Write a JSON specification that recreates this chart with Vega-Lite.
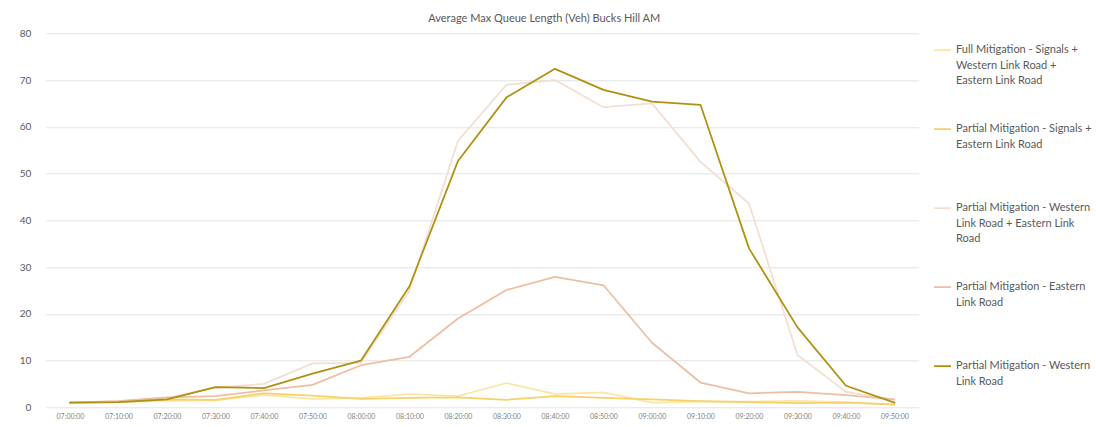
{
  "$schema": "https://vega.github.io/schema/vega-lite/v6.json",
  "width": 873,
  "height": 374,
  "autosize": {"type": "none"},
  "padding": {"left": 45.75, "top": 33.3, "right": 177.25, "bottom": 19.7},
  "background": "white",
  "title": {
    "text": "Average Max Queue Length (Veh) Bucks Hill AM",
    "font": "Lato",
    "fontSize": 11,
    "fontWeight": "normal",
    "color": "#595959",
    "anchor": "middle",
    "dx": 62,
    "dy": 22.5,
    "offset": 9
  },
  "data": {
    "values": [
      {"time": "07:00:00", "series": "Full Mitigation - Signals + Western Link Road + Eastern Link Road", "value": 1.0},
      {"time": "07:10:00", "series": "Full Mitigation - Signals + Western Link Road + Eastern Link Road", "value": 1.1},
      {"time": "07:20:00", "series": "Full Mitigation - Signals + Western Link Road + Eastern Link Road", "value": 1.4},
      {"time": "07:30:00", "series": "Full Mitigation - Signals + Western Link Road + Eastern Link Road", "value": 1.5},
      {"time": "07:40:00", "series": "Full Mitigation - Signals + Western Link Road + Eastern Link Road", "value": 2.6},
      {"time": "07:50:00", "series": "Full Mitigation - Signals + Western Link Road + Eastern Link Road", "value": 1.8},
      {"time": "08:00:00", "series": "Full Mitigation - Signals + Western Link Road + Eastern Link Road", "value": 2.0},
      {"time": "08:10:00", "series": "Full Mitigation - Signals + Western Link Road + Eastern Link Road", "value": 2.8},
      {"time": "08:20:00", "series": "Full Mitigation - Signals + Western Link Road + Eastern Link Road", "value": 2.4},
      {"time": "08:30:00", "series": "Full Mitigation - Signals + Western Link Road + Eastern Link Road", "value": 5.2},
      {"time": "08:40:00", "series": "Full Mitigation - Signals + Western Link Road + Eastern Link Road", "value": 2.8},
      {"time": "08:50:00", "series": "Full Mitigation - Signals + Western Link Road + Eastern Link Road", "value": 3.2},
      {"time": "09:00:00", "series": "Full Mitigation - Signals + Western Link Road + Eastern Link Road", "value": 1.0},
      {"time": "09:10:00", "series": "Full Mitigation - Signals + Western Link Road + Eastern Link Road", "value": 1.2},
      {"time": "09:20:00", "series": "Full Mitigation - Signals + Western Link Road + Eastern Link Road", "value": 1.2},
      {"time": "09:30:00", "series": "Full Mitigation - Signals + Western Link Road + Eastern Link Road", "value": 1.4},
      {"time": "09:40:00", "series": "Full Mitigation - Signals + Western Link Road + Eastern Link Road", "value": 1.1},
      {"time": "09:50:00", "series": "Full Mitigation - Signals + Western Link Road + Eastern Link Road", "value": 0.5},

      {"time": "07:00:00", "series": "Partial Mitigation - Signals + Eastern Link Road", "value": 1.0},
      {"time": "07:10:00", "series": "Partial Mitigation - Signals + Eastern Link Road", "value": 1.1},
      {"time": "07:20:00", "series": "Partial Mitigation - Signals + Eastern Link Road", "value": 1.7},
      {"time": "07:30:00", "series": "Partial Mitigation - Signals + Eastern Link Road", "value": 1.6},
      {"time": "07:40:00", "series": "Partial Mitigation - Signals + Eastern Link Road", "value": 3.0},
      {"time": "07:50:00", "series": "Partial Mitigation - Signals + Eastern Link Road", "value": 2.5},
      {"time": "08:00:00", "series": "Partial Mitigation - Signals + Eastern Link Road", "value": 1.8},
      {"time": "08:10:00", "series": "Partial Mitigation - Signals + Eastern Link Road", "value": 2.0},
      {"time": "08:20:00", "series": "Partial Mitigation - Signals + Eastern Link Road", "value": 2.1},
      {"time": "08:30:00", "series": "Partial Mitigation - Signals + Eastern Link Road", "value": 1.6},
      {"time": "08:40:00", "series": "Partial Mitigation - Signals + Eastern Link Road", "value": 2.4},
      {"time": "08:50:00", "series": "Partial Mitigation - Signals + Eastern Link Road", "value": 2.0},
      {"time": "09:00:00", "series": "Partial Mitigation - Signals + Eastern Link Road", "value": 1.7},
      {"time": "09:10:00", "series": "Partial Mitigation - Signals + Eastern Link Road", "value": 1.3},
      {"time": "09:20:00", "series": "Partial Mitigation - Signals + Eastern Link Road", "value": 1.1},
      {"time": "09:30:00", "series": "Partial Mitigation - Signals + Eastern Link Road", "value": 0.9},
      {"time": "09:40:00", "series": "Partial Mitigation - Signals + Eastern Link Road", "value": 1.0},
      {"time": "09:50:00", "series": "Partial Mitigation - Signals + Eastern Link Road", "value": 0.6},

      {"time": "07:00:00", "series": "Partial Mitigation - Western Link Road + Eastern Link Road", "value": 1.0},
      {"time": "07:10:00", "series": "Partial Mitigation - Western Link Road + Eastern Link Road", "value": 1.3},
      {"time": "07:20:00", "series": "Partial Mitigation - Western Link Road + Eastern Link Road", "value": 2.0},
      {"time": "07:30:00", "series": "Partial Mitigation - Western Link Road + Eastern Link Road", "value": 4.2},
      {"time": "07:40:00", "series": "Partial Mitigation - Western Link Road + Eastern Link Road", "value": 5.0},
      {"time": "07:50:00", "series": "Partial Mitigation - Western Link Road + Eastern Link Road", "value": 9.4},
      {"time": "08:00:00", "series": "Partial Mitigation - Western Link Road + Eastern Link Road", "value": 9.5},
      {"time": "08:10:00", "series": "Partial Mitigation - Western Link Road + Eastern Link Road", "value": 25.0},
      {"time": "08:20:00", "series": "Partial Mitigation - Western Link Road + Eastern Link Road", "value": 57.0},
      {"time": "08:30:00", "series": "Partial Mitigation - Western Link Road + Eastern Link Road", "value": 69.0},
      {"time": "08:40:00", "series": "Partial Mitigation - Western Link Road + Eastern Link Road", "value": 70.0},
      {"time": "08:50:00", "series": "Partial Mitigation - Western Link Road + Eastern Link Road", "value": 64.2},
      {"time": "09:00:00", "series": "Partial Mitigation - Western Link Road + Eastern Link Road", "value": 65.0},
      {"time": "09:10:00", "series": "Partial Mitigation - Western Link Road + Eastern Link Road", "value": 52.5},
      {"time": "09:20:00", "series": "Partial Mitigation - Western Link Road + Eastern Link Road", "value": 43.6},
      {"time": "09:30:00", "series": "Partial Mitigation - Western Link Road + Eastern Link Road", "value": 11.2},
      {"time": "09:40:00", "series": "Partial Mitigation - Western Link Road + Eastern Link Road", "value": 3.3},
      {"time": "09:50:00", "series": "Partial Mitigation - Western Link Road + Eastern Link Road", "value": 1.6},

      {"time": "07:00:00", "series": "Partial Mitigation - Eastern Link Road", "value": 1.0},
      {"time": "07:10:00", "series": "Partial Mitigation - Eastern Link Road", "value": 1.3},
      {"time": "07:20:00", "series": "Partial Mitigation - Eastern Link Road", "value": 2.1},
      {"time": "07:30:00", "series": "Partial Mitigation - Eastern Link Road", "value": 2.4},
      {"time": "07:40:00", "series": "Partial Mitigation - Eastern Link Road", "value": 3.6},
      {"time": "07:50:00", "series": "Partial Mitigation - Eastern Link Road", "value": 4.8},
      {"time": "08:00:00", "series": "Partial Mitigation - Eastern Link Road", "value": 9.0},
      {"time": "08:10:00", "series": "Partial Mitigation - Eastern Link Road", "value": 10.8},
      {"time": "08:20:00", "series": "Partial Mitigation - Eastern Link Road", "value": 19.0},
      {"time": "08:30:00", "series": "Partial Mitigation - Eastern Link Road", "value": 25.1},
      {"time": "08:40:00", "series": "Partial Mitigation - Eastern Link Road", "value": 27.9},
      {"time": "08:50:00", "series": "Partial Mitigation - Eastern Link Road", "value": 26.1},
      {"time": "09:00:00", "series": "Partial Mitigation - Eastern Link Road", "value": 13.8},
      {"time": "09:10:00", "series": "Partial Mitigation - Eastern Link Road", "value": 5.3},
      {"time": "09:20:00", "series": "Partial Mitigation - Eastern Link Road", "value": 3.0},
      {"time": "09:30:00", "series": "Partial Mitigation - Eastern Link Road", "value": 3.3},
      {"time": "09:40:00", "series": "Partial Mitigation - Eastern Link Road", "value": 2.6},
      {"time": "09:50:00", "series": "Partial Mitigation - Eastern Link Road", "value": 1.7},

      {"time": "07:00:00", "series": "Partial Mitigation - Western Link Road", "value": 1.0},
      {"time": "07:10:00", "series": "Partial Mitigation - Western Link Road", "value": 1.1},
      {"time": "07:20:00", "series": "Partial Mitigation - Western Link Road", "value": 1.7},
      {"time": "07:30:00", "series": "Partial Mitigation - Western Link Road", "value": 4.3},
      {"time": "07:40:00", "series": "Partial Mitigation - Western Link Road", "value": 4.1},
      {"time": "07:50:00", "series": "Partial Mitigation - Western Link Road", "value": 7.2},
      {"time": "08:00:00", "series": "Partial Mitigation - Western Link Road", "value": 10.0},
      {"time": "08:10:00", "series": "Partial Mitigation - Western Link Road", "value": 25.9},
      {"time": "08:20:00", "series": "Partial Mitigation - Western Link Road", "value": 52.7},
      {"time": "08:30:00", "series": "Partial Mitigation - Western Link Road", "value": 66.3},
      {"time": "08:40:00", "series": "Partial Mitigation - Western Link Road", "value": 72.4},
      {"time": "08:50:00", "series": "Partial Mitigation - Western Link Road", "value": 67.9},
      {"time": "09:00:00", "series": "Partial Mitigation - Western Link Road", "value": 65.4},
      {"time": "09:10:00", "series": "Partial Mitigation - Western Link Road", "value": 64.7},
      {"time": "09:20:00", "series": "Partial Mitigation - Western Link Road", "value": 34.0},
      {"time": "09:30:00", "series": "Partial Mitigation - Western Link Road", "value": 17.1},
      {"time": "09:40:00", "series": "Partial Mitigation - Western Link Road", "value": 4.6},
      {"time": "09:50:00", "series": "Partial Mitigation - Western Link Road", "value": 1.0}
    ]
  },
  "mark": {"type": "line", "strokeCap": "round", "strokeJoin": "round"},
  "encoding": {
    "x": {
      "field": "time",
      "type": "ordinal",
      "sort": null,
      "scale": {"type": "point", "padding": 0.5},
      "axis": {
        "title": null,
        "labelAngle": 0,
        "labelFont": "Lato",
        "labelFontSize": 7,
        "labelColor": "#7F7F7F",
        "labelPadding": 5,
        "ticks": false,
        "tickSize": 0,
        "domain": false,
        "grid": false
      }
    },
    "y": {
      "field": "value",
      "type": "quantitative",
      "scale": {"domain": [0, 80], "nice": false},
      "axis": {
        "title": null,
        "values": [0, 10, 20, 30, 40, 50, 60, 70, 80],
        "labelFont": "Lato",
        "labelFontSize": 10,
        "labelColor": "#595959",
        "labelPadding": 15,
        "ticks": false,
        "tickSize": 0,
        "domain": false,
        "grid": true,
        "gridColor": "#E3E3E3",
        "gridWidth": 1
      }
    },
    "color": {
      "field": "series",
      "type": "nominal",
      "scale": {
        "domain": [
          "Full Mitigation - Signals + Western Link Road + Eastern Link Road",
          "Partial Mitigation - Signals + Eastern Link Road",
          "Partial Mitigation - Western Link Road + Eastern Link Road",
          "Partial Mitigation - Eastern Link Road",
          "Partial Mitigation - Western Link Road"
        ],
        "range": ["#FCE5A4", "#F6D168", "#F2DFD1", "#EDBFA0", "#AF910F"]
      },
      "legend": {
        "title": null,
        "orient": "none",
        "legendX": 887.25,
        "legendY": -22.55,
        "padding": 0,
        "symbolType": "stroke",
        "symbolSize": 289,
        "clipHeight": 78.5,
        "rowPadding": 0,
        "labelFont": "Lato",
        "labelFontSize": 11,
        "labelColor": "#595959",
        "labelBaseline": "middle",
        "labelLimit": 200,
        "labelOffset": 4,
        "labelExpr": "datum.label == 'Full Mitigation - Signals + Western Link Road + Eastern Link Road' ? ['Full Mitigation - Signals +', 'Western Link Road +', 'Eastern Link Road'] : datum.label == 'Partial Mitigation - Signals + Eastern Link Road' ? ['Partial Mitigation - Signals +', 'Eastern Link Road'] : datum.label == 'Partial Mitigation - Western Link Road + Eastern Link Road' ? ['Partial Mitigation - Western', 'Link Road + Eastern Link', 'Road'] : datum.label == 'Partial Mitigation - Eastern Link Road' ? ['Partial Mitigation - Eastern', 'Link Road'] : ['Partial Mitigation - Western', 'Link Road']"
      }
    },
    "strokeWidth": {
      "field": "series",
      "type": "nominal",
      "scale": {
        "domain": [
          "Full Mitigation - Signals + Western Link Road + Eastern Link Road",
          "Partial Mitigation - Signals + Eastern Link Road",
          "Partial Mitigation - Western Link Road + Eastern Link Road",
          "Partial Mitigation - Eastern Link Road",
          "Partial Mitigation - Western Link Road"
        ],
        "range": [1.75, 1.75, 1.75, 1.75, 2.25]
      }
    }
  },
  "config": {
    "view": {"stroke": null},
    "style": {"guide-label": {"lineHeight": 15.5}}
  }
}
